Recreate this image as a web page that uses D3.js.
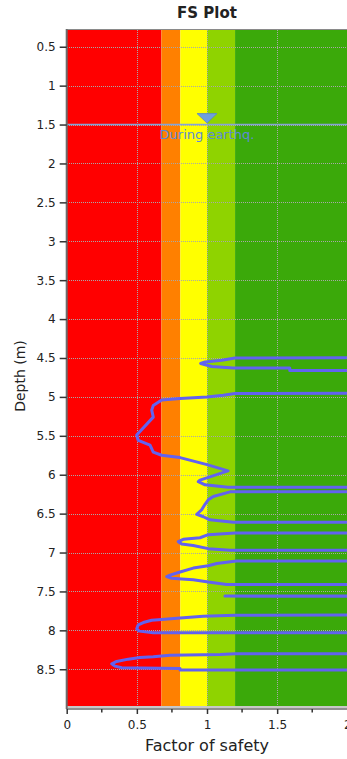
<!DOCTYPE html>
<html>
<head>
<meta charset="utf-8">
<script src="https://cdn.jsdelivr.net/npm/d3@7"></script>
<style>
  html, body { margin: 0; padding: 0; background: #ffffff; }
  svg { display: block; font-family: "DejaVu Sans", Verdana, sans-serif; }
</style>
</head>
<body>
<svg id="chart" width="347" height="759"></svg>
<script>
// Factor-of-safety bands (FS thresholds and fill colours)
const bandLimits = [0, 0.675, 0.81, 1.0, 1.2, 2.5];
const bandColors = ["#ff0000", "#ff8000", "#ffff00", "#8fd300", "#3ba90a"];

// Axis ticks
const depthTicks = [0.5, 1, 1.5, 2, 2.5, 3, 3.5, 4, 4.5, 5, 5.5, 6, 6.5, 7, 7.5, 8, 8.5];
const fsTicks = [0, 0.5, 1, 1.5, 2];
const fsMinorTicks = [0.25, 0.75, 1.25, 1.75, 2.25];

// Water table during earthquake
const waterDepth = [1.5];
const waterLabel = ["During earthq."];

// FS profile: depth (m) and factor of safety (5 = non-liquefiable cap)
const depth = [
  4.48, 4.50, 4.53, 4.55, 4.57, 4.61, 4.63, 4.63, 4.66, 4.66,
  4.95, 4.955, 4.98, 5.00, 5.02, 5.04, 5.11, 5.17, 5.26, 5.49, 5.56, 5.62, 5.71, 5.75, 5.78, 5.87, 5.95, 6.07, 6.09, 6.13, 6.16, 6.16,
  6.22, 6.22, 6.28, 6.32, 6.38, 6.45, 6.51, 6.54, 6.58, 6.61, 6.61,
  6.75, 6.75, 6.77, 6.81, 6.83, 6.86, 6.89, 6.91, 6.95, 6.97, 6.98,
  7.10, 7.11, 7.14, 7.17, 7.20, 7.25, 7.29, 7.31, 7.33, 7.34, 7.35, 7.38, 7.41, 7.42,
  7.555, 7.56, 7.565,
  7.80, 7.805, 7.82, 7.84, 7.86, 7.87, 7.90, 7.93, 7.98, 8.01, 8.03, 8.03,
  8.30, 8.30, 8.31, 8.32, 8.34, 8.35, 8.37, 8.40, 8.43, 8.46, 8.48, 8.49, 8.51, 8.51, 9.0
];
const factorOfSafety = [
  5, 1.20, 1.105, 0.986, 0.955, 1.033, 1.187, 1.59, 1.59, 5,
  5, 1.20, 1.116, 1.0, 0.808, 0.677, 0.617, 0.606, 0.617, 0.499, 0.51, 0.594, 0.617, 0.677, 0.808, 1.0, 1.15, 0.95, 0.938, 0.986, 1.15, 5,
  5, 1.164, 1.045, 1.01, 0.986, 0.962, 0.927, 0.974, 1.021, 1.187, 5,
  5, 1.20, 1.009, 0.95, 0.831, 0.795, 0.82, 0.902, 1.009, 1.164, 5,
  5, 1.21, 1.07, 1.009, 0.902, 0.808, 0.736, 0.713, 0.748, 0.82, 0.902, 1.009, 1.14, 5,
  5, 1.128, 5,
  5, 1.20, 0.974, 0.808, 0.677, 0.606, 0.546, 0.51, 0.499, 0.517, 0.617, 5,
  5, 1.20, 1.093, 0.736, 0.617, 0.522, 0.439, 0.356, 0.321, 0.344, 0.392, 0.808, 0.808, 5, 5
];

const svg = d3.select("#chart");
const W = 347;

const plot = { left: 66.7, top: 30, bottom: 707 };
const x = d3.scaleLinear().domain([0, 2.5]).range([plot.left, plot.left + 2.5 * 140.3]);
const y = d3.scaleLinear().domain([0.285, 8.985]).range([plot.top, plot.bottom]);
const plotRight = x(2.5);

svg.append("defs").append("clipPath").attr("id", "plotClip")
  .append("rect")
  .attr("x", plot.left).attr("y", plot.top)
  .attr("width", plotRight - plot.left).attr("height", plot.bottom - plot.top);

const gPlot = svg.append("g").attr("clip-path", "url(#plotClip)");

// Colour bands
const bands = d3.range(bandColors.length).map(i => ({ x0: bandLimits[i], x1: bandLimits[i + 1], c: bandColors[i] }));
gPlot.selectAll("rect.band").data(bands).enter().append("rect")
  .attr("class", "band")
  .attr("x", d => x(d.x0)).attr("width", d => x(d.x1) - x(d.x0))
  .attr("y", plot.top).attr("height", plot.bottom - plot.top)
  .attr("fill", d => d.c);

// Dotted grid
const gridStyle = sel => sel.attr("stroke", "#a8a8a8").attr("stroke-width", 1).attr("stroke-dasharray", "1,1").attr("shape-rendering", "crispEdges");
gPlot.selectAll("line.hgrid").data(depthTicks).enter().append("line")
  .attr("x1", plot.left).attr("x2", plotRight)
  .attr("y1", d => Math.round(y(d)) + 0.5).attr("y2", d => Math.round(y(d)) + 0.5)
  .call(gridStyle);
gPlot.selectAll("line.vgrid").data(fsTicks.filter(d => d > 0)).enter().append("line")
  .attr("y1", plot.top).attr("y2", plot.bottom)
  .attr("x1", d => Math.round(x(d)) + 0.5).attr("x2", d => Math.round(x(d)) + 0.5)
  .call(gridStyle);

// Water table line
gPlot.selectAll("line.water").data(waterDepth).enter().append("line")
  .attr("x1", plot.left).attr("x2", plotRight)
  .attr("y1", d => y(d)).attr("y2", d => y(d))
  .attr("stroke", "#86a4d6").attr("stroke-width", 1.5);

// FS profile
const profile = depth.map((d, i) => [factorOfSafety[i], d]);
gPlot.append("path")
  .datum(profile)
  .attr("fill", "none")
  .attr("stroke", "#6262f0")
  .attr("stroke-width", 3)
  .attr("stroke-linejoin", "round")
  .attr("d", d3.line().x(d => x(d[0])).y(d => y(d[1])));

// Water table marker and label
const wx = x(1.0);
waterDepth.forEach((wd, i) => {
  const wy = y(wd);
  svg.append("path")
    .attr("d", `M${wx - 10},${wy - 11}L${wx + 10},${wy - 11}L${wx},${wy - 1.5}Z`)
    .attr("fill", "#6f9fe0").attr("stroke", "#5a86c8").attr("stroke-width", 0.8);
  svg.append("text")
    .attr("x", wx).attr("y", wy + 14)
    .attr("text-anchor", "middle")
    .attr("font-size", 13)
    .attr("fill", "#5b8cd6")
    .text(waterLabel[i]);
});

// Plot frame: top border and bottom strip
svg.append("line").attr("x1", plot.left).attr("x2", W).attr("y1", plot.top - 0.5).attr("y2", plot.top - 0.5)
  .attr("stroke", "#8a8a8a").attr("stroke-width", 1);
svg.append("rect").attr("x", plot.left).attr("y", plot.bottom - 1).attr("width", W - plot.left).attr("height", 2)
  .attr("fill", "#c8c8c8");

// Left axis
const yAxis = d3.axisLeft(y).tickValues(depthTicks).tickSize(7).tickPadding(4).tickFormat(d3.format("~g"));
const gy = svg.append("g").attr("transform", `translate(${plot.left},0)`).call(yAxis);
gy.select(".domain").attr("stroke", "#6b6b6b").attr("stroke-width", 2)
  .attr("d", `M0,${plot.top - 1}V${plot.bottom + 2}`);
gy.selectAll(".tick line").attr("stroke", "#333").attr("stroke-width", 1.5);
gy.selectAll(".tick text").attr("font-size", 12).attr("fill", "#222").attr("font-family", "DejaVu Sans, Verdana, sans-serif");

// Bottom axis
const axisY = plot.bottom + 2;
const xAxis = d3.axisBottom(x).tickValues(fsTicks).tickSize(5).tickPadding(6).tickFormat(d3.format("~g"));
const gx = svg.append("g").attr("transform", `translate(0,${axisY})`).call(xAxis);
gx.select(".domain").attr("stroke", "#6b6b6b").attr("stroke-width", 1.5)
  .attr("d", `M${plot.left},0H${W + 20}`);
gx.selectAll(".tick line").attr("stroke", "#333").attr("stroke-width", 1.5);
gx.selectAll(".tick text").attr("font-size", 12).attr("fill", "#222").attr("font-family", "DejaVu Sans, Verdana, sans-serif");
gx.selectAll("line.minor").data(fsMinorTicks).enter().append("line")
  .attr("class", "minor")
  .attr("x1", d => x(d)).attr("x2", d => x(d))
  .attr("y1", 0).attr("y2", 3.5)
  .attr("stroke", "#333").attr("stroke-width", 1.5);

// Titles
svg.append("text")
  .attr("x", x(1.0)).attr("y", 18)
  .attr("text-anchor", "middle")
  .attr("font-size", 15).attr("font-weight", "bold").attr("fill", "#222")
  .text("FS Plot");

svg.append("text")
  .attr("x", x(1.0)).attr("y", 751)
  .attr("text-anchor", "middle")
  .attr("font-size", 16).attr("fill", "#222")
  .text("Factor of safety");

svg.append("text")
  .attr("transform", `translate(25,376) rotate(-90)`)
  .attr("text-anchor", "middle")
  .attr("font-size", 14).attr("fill", "#222")
  .text("Depth (m)");
</script>
</body>
</html>
